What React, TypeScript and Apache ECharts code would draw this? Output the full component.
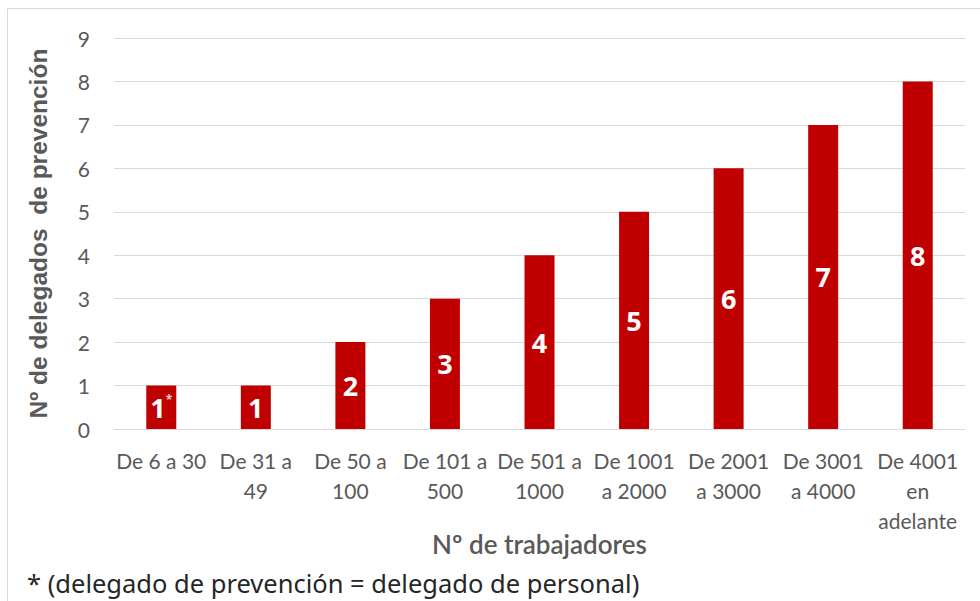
import React, { useEffect, useRef } from "react";
import * as echarts from "echarts";

const categories: string[] = [
  "De 6 a 30",
  "De 31 a\n49",
  "De 50 a\n100",
  "De 101 a\n500",
  "De 501 a\n1000",
  "De 1001\na 2000",
  "De 2001\na 3000",
  "De 3001\na 4000",
  "De 4001\nen\nadelante",
];
const delegados: number[] = [1, 1, 2, 3, 4, 5, 6, 7, 8];
const starredIndex = 0;
const yTitle = "Nº de delegados  de prevención";
const xTitle = "Nº de trabajadores";
const footnote = "* (delegado de prevención = delegado de personal)";

export default function App() {
  const ref = useRef<HTMLDivElement>(null);
  useEffect(() => {
    if (!ref.current) return;
    const chart = echarts.init(ref.current, null, { renderer: "svg" });
    const font = "Lato, 'Noto Sans', sans-serif";
    chart.setOption({
      animation: false,
      backgroundColor: "#ffffff",
      grid: { left: 114, right: 15, top: 38, bottom: 172, containLabel: false },
      xAxis: {
        type: "category",
        data: categories,
        axisTick: { show: false },
        axisLine: { lineStyle: { color: "#d9d9d9", width: 1 } },
        axisLabel: {
          color: "#595959",
          fontSize: 21,
          fontFamily: font,
          lineHeight: 30,
          margin: 16,
          interval: 0,
        },
        name: xTitle,
        nameLocation: "middle",
        nameGap: 102,
        nameMoveOverlap: false,
        nameTextStyle: { color: "#595959", fontSize: 26, fontFamily: font, fontWeight: 600 },
      },
      yAxis: {
        type: "value",
        min: 0,
        max: 9,
        interval: 1,
        axisLine: { show: false },
        axisTick: { show: false },
        splitLine: { lineStyle: { color: "#d9d9d9", width: 1 } },
        axisLabel: { color: "#595959", fontSize: 21, fontFamily: font, margin: 24 },
        name: yTitle,
        nameLocation: "middle",
        nameGap: 63,
        nameMoveOverlap: false,
        nameRotate: 90,
        nameTextStyle: {
          color: "#595959",
          fontSize: 24.5,
          fontFamily: "'Liberation Sans', Arial, sans-serif",
          fontWeight: "bold",
        },
      },
      series: [
        {
          type: "bar",
          data: delegados,
          barWidth: 30,
          itemStyle: { color: "#c00000" },
          label: {
            show: true,
            position: "inside",
            color: "#ffffff",
            fontSize: 27,
            fontWeight: "bold",
            fontFamily: "'Open Sans', sans-serif",
            formatter: (p: any) =>
              p.dataIndex === starredIndex ? `{v|${p.value}}{s|*}` : `{v|${p.value}}`,
            rich: {
              v: { color: "#ffffff", fontSize: 27, fontWeight: "bold", fontFamily: "'Open Sans', sans-serif" },
              s: { color: "#f4d0d0", fontSize: 12, verticalAlign: "top", fontFamily: "'Open Sans', sans-serif", padding: [0, 0, 12, 0] },
            },
          },
        },
      ],
      graphic: [
        {
          type: "rect",
          shape: { x: 7.5, y: 8.5, width: 990, height: 620 },
          style: { fill: "none", stroke: "#d9d9d9", lineWidth: 1 },
          silent: true,
        },
        {
          type: "text",
          left: 27,
          top: 570,
          style: { text: footnote, fontSize: 25.5, fontFamily: "'Noto Sans', sans-serif", fill: "#262626" },
        },
      ],
    });
    return () => chart.dispose();
  }, []);
  return (
    <div
      ref={ref}
      style={{ position: "absolute", left: 0, top: 0, width: 980, height: 601 }}
    />
  );
}
